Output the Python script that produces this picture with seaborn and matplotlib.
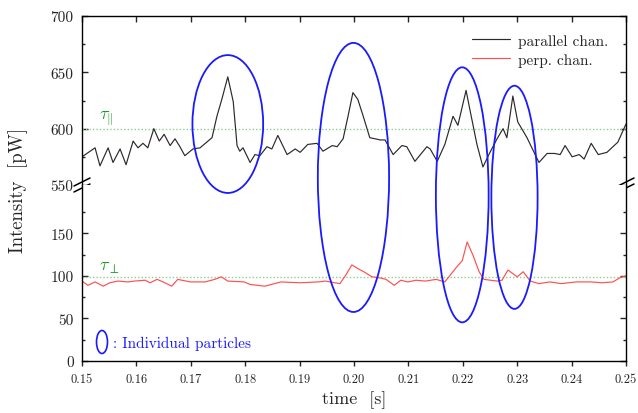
import numpy as np
import pandas as pd
import matplotlib
matplotlib.use("Agg")
import matplotlib.pyplot as plt
import matplotlib.transforms as mtransforms
from matplotlib.patches import Ellipse
from matplotlib.lines import Line2D
from matplotlib.ticker import FixedLocator
import seaborn as sns

# ---------------- data ----------------
par_t = [0.1500, 0.1524, 0.1533, 0.1548, 0.1557, 0.1570, 0.1581, 0.1594, 0.1603, 0.1612,
         0.1621, 0.1632, 0.1642, 0.1651, 0.1662, 0.1671, 0.1680, 0.1689, 0.1704, 0.1717,
         0.1739, 0.1748, 0.1757, 0.1768, 0.1778, 0.1785, 0.1790, 0.1796, 0.1809, 0.1818,
         0.1827, 0.1840, 0.1849, 0.1860, 0.1877, 0.1892, 0.1901, 0.1915, 0.1932, 0.1943,
         0.1960, 0.1969, 0.1980, 0.1989, 0.1998, 0.2007, 0.2017, 0.2029, 0.2039, 0.2048,
         0.2057, 0.2072, 0.2088, 0.2097, 0.2112, 0.2134, 0.2140, 0.2153, 0.2167, 0.2182,
         0.2191, 0.2206, 0.2213, 0.2226, 0.2237, 0.2250, 0.2263, 0.2274, 0.2281, 0.2292,
         0.2301, 0.2318, 0.2333, 0.2340, 0.2355, 0.2369, 0.2379, 0.2388, 0.2401, 0.2414,
         0.2423, 0.2436, 0.2449, 0.2465, 0.2476, 0.2485, 0.2498, 0.2500]
par_v = [575, 583, 567, 583, 570, 582, 568, 589, 583, 587,
         583, 600, 589, 595, 585, 591, 584, 576, 582, 583,
         592, 611, 626, 646, 624, 585, 580, 583, 570, 577,
         576, 584, 582, 594, 577, 582, 579, 586, 587, 580,
         585, 584, 591, 611, 632, 626, 611, 592, 591, 590,
         590, 577, 585, 584, 571, 584, 582, 571, 586, 611,
         603, 634, 617, 586, 566, 579, 591, 600, 592, 629,
         606, 592, 577, 570, 578, 578, 577, 585, 575, 577,
         573, 587, 577, 579, 584, 588, 602, 604]

perp_t = [0.1500, 0.1511, 0.1524, 0.1539, 0.1551, 0.1566, 0.1585, 0.1596, 0.1616, 0.1625,
          0.1638, 0.1649, 0.1665, 0.1676, 0.1699, 0.1726, 0.1744, 0.1756, 0.1768, 0.1798,
          0.1809, 0.1836, 0.1866, 0.1901, 0.1934, 0.1947, 0.1974, 0.1985, 0.1996, 0.2009,
          0.2018, 0.2033, 0.2046, 0.2059, 0.2074, 0.2086, 0.2099, 0.2114, 0.2131, 0.2151,
          0.2167, 0.2188, 0.2199, 0.2208, 0.2219, 0.2230, 0.2239, 0.2263, 0.2272, 0.2283,
          0.2300, 0.2311, 0.2324, 0.2340, 0.2360, 0.2381, 0.2408, 0.2436, 0.2456, 0.2476,
          0.2489, 0.2500]
perp_v = [94, 89, 93, 88, 92, 94, 93, 94, 95, 92,
          96, 93, 88, 96, 93, 93, 96, 99, 94, 93,
          90, 88, 93, 92, 93, 94, 91, 101, 113, 108,
          105, 99, 98, 96, 89, 95, 93, 95, 94, 96,
          93, 110, 118, 140, 124, 105, 96, 94, 95, 107,
          99, 105, 94, 91, 93, 91, 93, 93, 92, 93,
          98, 100]

tau_par = 600
tau_perp = 99

x_ticks = [0.15, 0.16, 0.17, 0.18, 0.19, 0.20, 0.21, 0.22, 0.23, 0.24, 0.25]
x_ticklabels = ["0.15", "0.16", "0.17", "0.18", "0.19", "0.20", "0.21", "0.22", "0.23", "0.24", "0.25"]
top_yticks = [550, 600, 650, 700]
top_yminor = [575, 625, 675]
bot_yticks = [0, 50, 100, 150]
bot_yminor = [25, 75, 125, 175]

# particle ellipses: centre time, width (s), centre (fig fraction), height (fig fraction)
ell_tc = [0.1768, 0.1999, 0.2199, 0.2295]
ell_tw = [0.0130, 0.0131, 0.0097, 0.0085]
ell_yc = [0.698, 0.569, 0.527, 0.521]
ell_h = [0.333, 0.650, 0.616, 0.539]

# ---------------- style ----------------
sns.set_theme(style="ticks")
plt.rcParams["font.family"] = ["cmr10", "DejaVu Serif"]
plt.rcParams["mathtext.fontset"] = "cm"
plt.rcParams["axes.formatter.use_mathtext"] = True
plt.rcParams["axes.unicode_minus"] = False

W, H = 638, 414
fig = plt.figure(figsize=(W / 100, H / 100), dpi=100)

left, right = 82 / W, 626 / W
y_top, y_mid, y_bot = 1 - 17 / H, 1 - 186 / H, 1 - 362 / H
ax_t = fig.add_axes([left, y_mid, right - left, y_top - y_mid])
ax_b = fig.add_axes([left, y_bot, right - left, y_mid - y_bot])

df_par = pd.DataFrame({"t": par_t, "v": par_v})
df_perp = pd.DataFrame({"t": perp_t, "v": perp_v})

black = "#2a2a2a"
red = "#ff4f4f"
green_line = "#8fcf8f"
green_txt = "#1d9a22"
blue = "#1a1aff"

sns.lineplot(data=df_par, x="t", y="v", ax=ax_t, color=black, lw=0.85,
             estimator=None, sort=False, legend=False)
sns.lineplot(data=df_perp, x="t", y="v", ax=ax_b, color=red, lw=0.85,
             estimator=None, sort=False, legend=False)

ax_t.axhline(tau_par, color=green_line, lw=1.0, ls=(0, (1, 1.5)), zorder=1)
ax_b.axhline(tau_perp, color=green_line, lw=1.0, ls=(0, (1, 1.5)), zorder=1)

for ax in (ax_t, ax_b):
    ax.set_xlim(0.15, 0.25)
    ax.set_xlabel("")
    ax.set_ylabel("")
    for s in ax.spines.values():
        s.set_linewidth(1.0)
        s.set_color("black")

ax_t.set_ylim(550, 700)
ax_b.set_ylim(0, 207)

ax_t.spines["bottom"].set_visible(False)
ax_b.spines["top"].set_visible(False)

ax_t.set_yticks(top_yticks)
ax_t.set_yticklabels([str(v) for v in top_yticks])
ax_b.set_yticks(bot_yticks)
ax_b.set_yticklabels([str(v) for v in bot_yticks])
ax_t.yaxis.set_minor_locator(FixedLocator(top_yminor))
ax_b.yaxis.set_minor_locator(FixedLocator(bot_yminor))

for ax in (ax_t, ax_b):
    ax.tick_params(axis="y", which="both", direction="in", left=True, right=True,
                   labelleft=True, labelright=False, labelsize=11, pad=6, width=1.0)
    ax.tick_params(axis="y", which="major", length=4.5)
    ax.tick_params(axis="y", which="minor", length=2.5)

ax_t.set_xticks(x_ticks)
ax_t.tick_params(axis="x", which="both", direction="in", top=True, bottom=False,
                 labeltop=False, labelbottom=False, length=4.5, width=1.0)
ax_b.set_xticks(x_ticks)
ax_b.set_xticklabels(x_ticklabels)
ax_b.tick_params(axis="x", which="both", direction="out", top=False, bottom=True,
                 labelsize=9, length=3.5, width=1.0, pad=5)

ax_b.set_xlabel("time  [s]", fontsize=13, labelpad=4)
fig.text(18 / W, 1 - 190 / H, "Intensity  [pW]", rotation=90, fontsize=13.5,
         ha="center", va="center")

# thresholds labels
ax_t.text(0.1532, tau_par + 1.5, r"$\tau_{\Vert}$", color=green_txt, fontsize=13,
          ha="left", va="bottom")
ax_b.text(0.1532, tau_perp + 2, r"$\tau_{\perp}$", color=green_txt, fontsize=13,
          ha="left", va="bottom")

# legend
handles = [Line2D([], [], color=black, lw=0.85), Line2D([], [], color=red, lw=0.85)]
ax_t.legend(handles, ["parallel chan.", "perp. chan."], loc="upper right",
            bbox_to_anchor=(0.995, 0.985), frameon=False, fontsize=11,
            handlelength=2.5, handletextpad=0.5, labelspacing=0.35,
            borderaxespad=0.6)

# ellipses spanning both panels
blend = mtransforms.blended_transform_factory(ax_b.transData, fig.transFigure)
for tc, tw, yc, hh in zip(ell_tc, ell_tw, ell_yc, ell_h):
    e = Ellipse((tc, yc), tw, hh, transform=blend, fill=False, edgecolor=blue,
                lw=1.3, clip_on=False, zorder=5)
    fig.add_artist(e)

# small legend ellipse and text
fig.add_artist(Ellipse((102 / W, 1 - 343 / H), 11 / W, 23 / H, transform=fig.transFigure,
                       fill=False, edgecolor=blue, lw=1.2))
fig.text(113 / W, 1 - 344 / H, ": Individual particles", color=blue, fontsize=11,
         ha="left", va="center")

# axis break marks
for xpos in (0.0, 1.0):
    for dy in (-3.0, 3.0):
        x0 = xpos - 8 / 544
        x1 = xpos + 8 / 544
        ya = (dy - 4) / 169
        yb = (dy + 4) / 169
        ax_t.plot([x0, x1], [ya, yb], transform=ax_t.transAxes, color="black",
                  lw=1.1, clip_on=False)
    ax_t.plot([xpos, xpos], [-1 / 169, 1 / 169], transform=ax_t.transAxes,
              color="white", lw=1.6, clip_on=False)

fig.savefig("out.png", dpi=100)
